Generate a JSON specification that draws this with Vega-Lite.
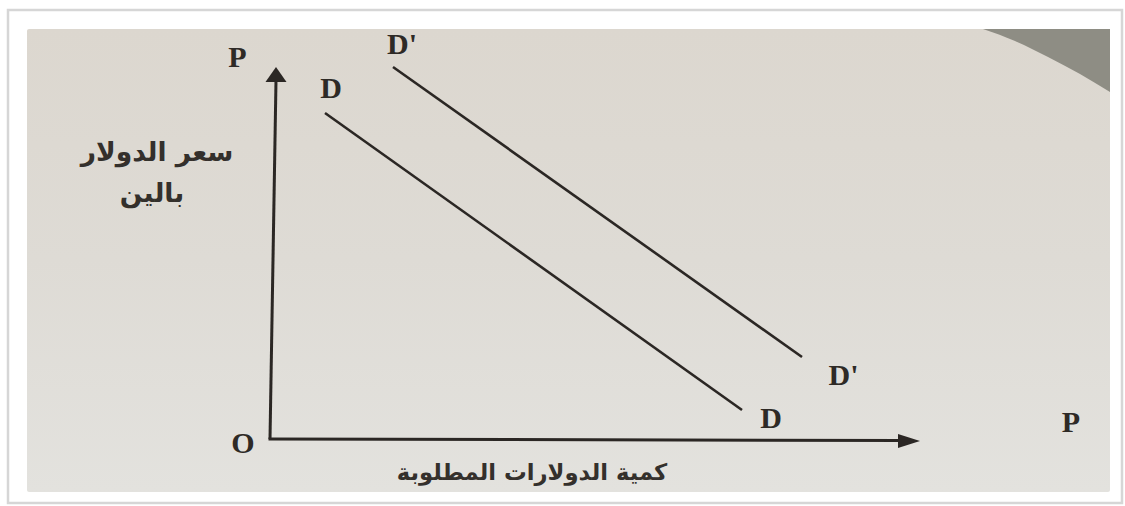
{
  "$schema": "https://vega.github.io/schema/vega-lite/v6.json",
  "width": 1125,
  "height": 506,
  "autosize": {"type": "fit", "contains": "padding"},
  "padding": 0,
  "background": "#ffffff",
  "config": {"view": {"stroke": null}},
  "datasets": {
    "frame": [{"q": -262, "q2": 852, "p": 428, "p2": -65}],
    "paper": [{"q": -243, "q2": 840, "p": 409, "p2": -54}],
    "corner": [
      {"q": 713, "p": 409},
      {"q": 745, "p": 397},
      {"q": 778, "p": 381},
      {"q": 810, "p": 364},
      {"q": 840, "p": 346}
    ],
    "axes": [
      {"name": "price", "q": 0, "p": -1, "q2": 6, "p2": 358},
      {"name": "quantity", "q": -1.5, "p": -1, "q2": 632, "p2": -2.5}
    ],
    "heads": [
      {"dir": "up", "q": 6, "p": 363.5},
      {"dir": "right", "q": 639, "p": -3}
    ],
    "demand": [
      {"curve": "D", "q": 55, "p": 325},
      {"curve": "D", "q": 472, "p": 28},
      {"curve": "D'", "q": 123, "p": 371},
      {"curve": "D'", "q": 532, "p": 81}
    ],
    "letters": [
      {"label": "P", "q": -32.5, "p": 371},
      {"label": "D", "q": 61, "p": 340},
      {"label": "D'", "q": 132, "p": 384},
      {"label": "D'", "q": 573.5, "p": 53},
      {"label": "D", "q": 501, "p": 10},
      {"label": "P", "q": 801, "p": 6},
      {"label": "O", "q": -27, "p": -15}
    ],
    "priceTitle": [
      {"label": "سعر الدولار", "q": -113, "p": 285},
      {"label": "بالين", "q": -118, "p": 244}
    ],
    "quantityTitle": [
      {"label": "كمية الدولارات المطلوبة", "q": 262, "p": -35}
    ]
  },
  "encoding": {
    "x": {"field": "q", "type": "quantitative", "axis": null,
          "scale": {"domain": [-270, 855], "nice": false, "zero": false}},
    "y": {"field": "p", "type": "quantitative", "axis": null,
          "scale": {"domain": [-68, 438], "nice": false, "zero": false}}
  },
  "layer": [
    {
      "data": {"name": "frame"},
      "mark": {"type": "rect", "fill": "#ffffff", "stroke": "#d6d6d6", "strokeWidth": 2.5},
      "encoding": {"x2": {"field": "q2"}, "y2": {"field": "p2"}}
    },
    {
      "data": {"name": "paper"},
      "mark": {
        "type": "rect", "cornerRadius": 2,
        "fill": {
          "gradient": "linear", "x1": 0, "y1": 0, "x2": 0, "y2": 1,
          "stops": [
            {"offset": 0, "color": "#dcd7cf"},
            {"offset": 0.5, "color": "#dedbd5"},
            {"offset": 1, "color": "#e3e2de"}
          ]
        }
      },
      "encoding": {"x2": {"field": "q2"}, "y2": {"field": "p2"}}
    },
    {
      "data": {"name": "corner"},
      "mark": {"type": "area", "fill": "#8e8d84", "fillOpacity": 1, "interpolate": "natural", "orient": "vertical"},
      "encoding": {"y2": {"datum": 409}}
    },
    {
      "data": {"name": "axes"},
      "mark": {"type": "rule", "color": "#2b2724", "strokeWidth": 3},
      "encoding": {"x2": {"field": "q2"}, "y2": {"field": "p2"}}
    },
    {
      "data": {"name": "heads"},
      "mark": {"type": "point", "filled": true, "opacity": 1, "color": "#2b2724", "size": 484},
      "encoding": {
        "shape": {
          "field": "dir", "type": "nominal", "legend": null,
          "scale": {
            "domain": ["up", "right"],
            "range": ["M-0.955,0.68L0,-0.68L0.955,0.68Z", "M-1,-0.64L1,0L-1,0.64Z"]
          }
        }
      }
    },
    {
      "data": {"name": "demand"},
      "mark": {"type": "line", "color": "#2b2724", "strokeWidth": 2.6},
      "encoding": {"detail": {"field": "curve"}, "order": {"field": "q"}}
    },
    {
      "data": {"name": "letters"},
      "mark": {
        "type": "text", "font": "Liberation Serif", "fontWeight": "bold",
        "fontSize": 30, "align": "center", "baseline": "alphabetic", "color": "#2e2a26"
      },
      "encoding": {"text": {"field": "label"}}
    },
    {
      "data": {"name": "priceTitle"},
      "mark": {
        "type": "text", "font": "DejaVu Sans", "fontWeight": "bold",
        "fontSize": 26.5, "align": "center", "baseline": "middle", "color": "#34302c"
      },
      "encoding": {"text": {"field": "label"}}
    },
    {
      "data": {"name": "quantityTitle"},
      "mark": {
        "type": "text", "font": "DejaVu Sans", "fontWeight": "bold",
        "fontSize": 22.7, "align": "center", "baseline": "middle", "color": "#34302c"
      },
      "encoding": {"text": {"field": "label"}}
    }
  ]
}
